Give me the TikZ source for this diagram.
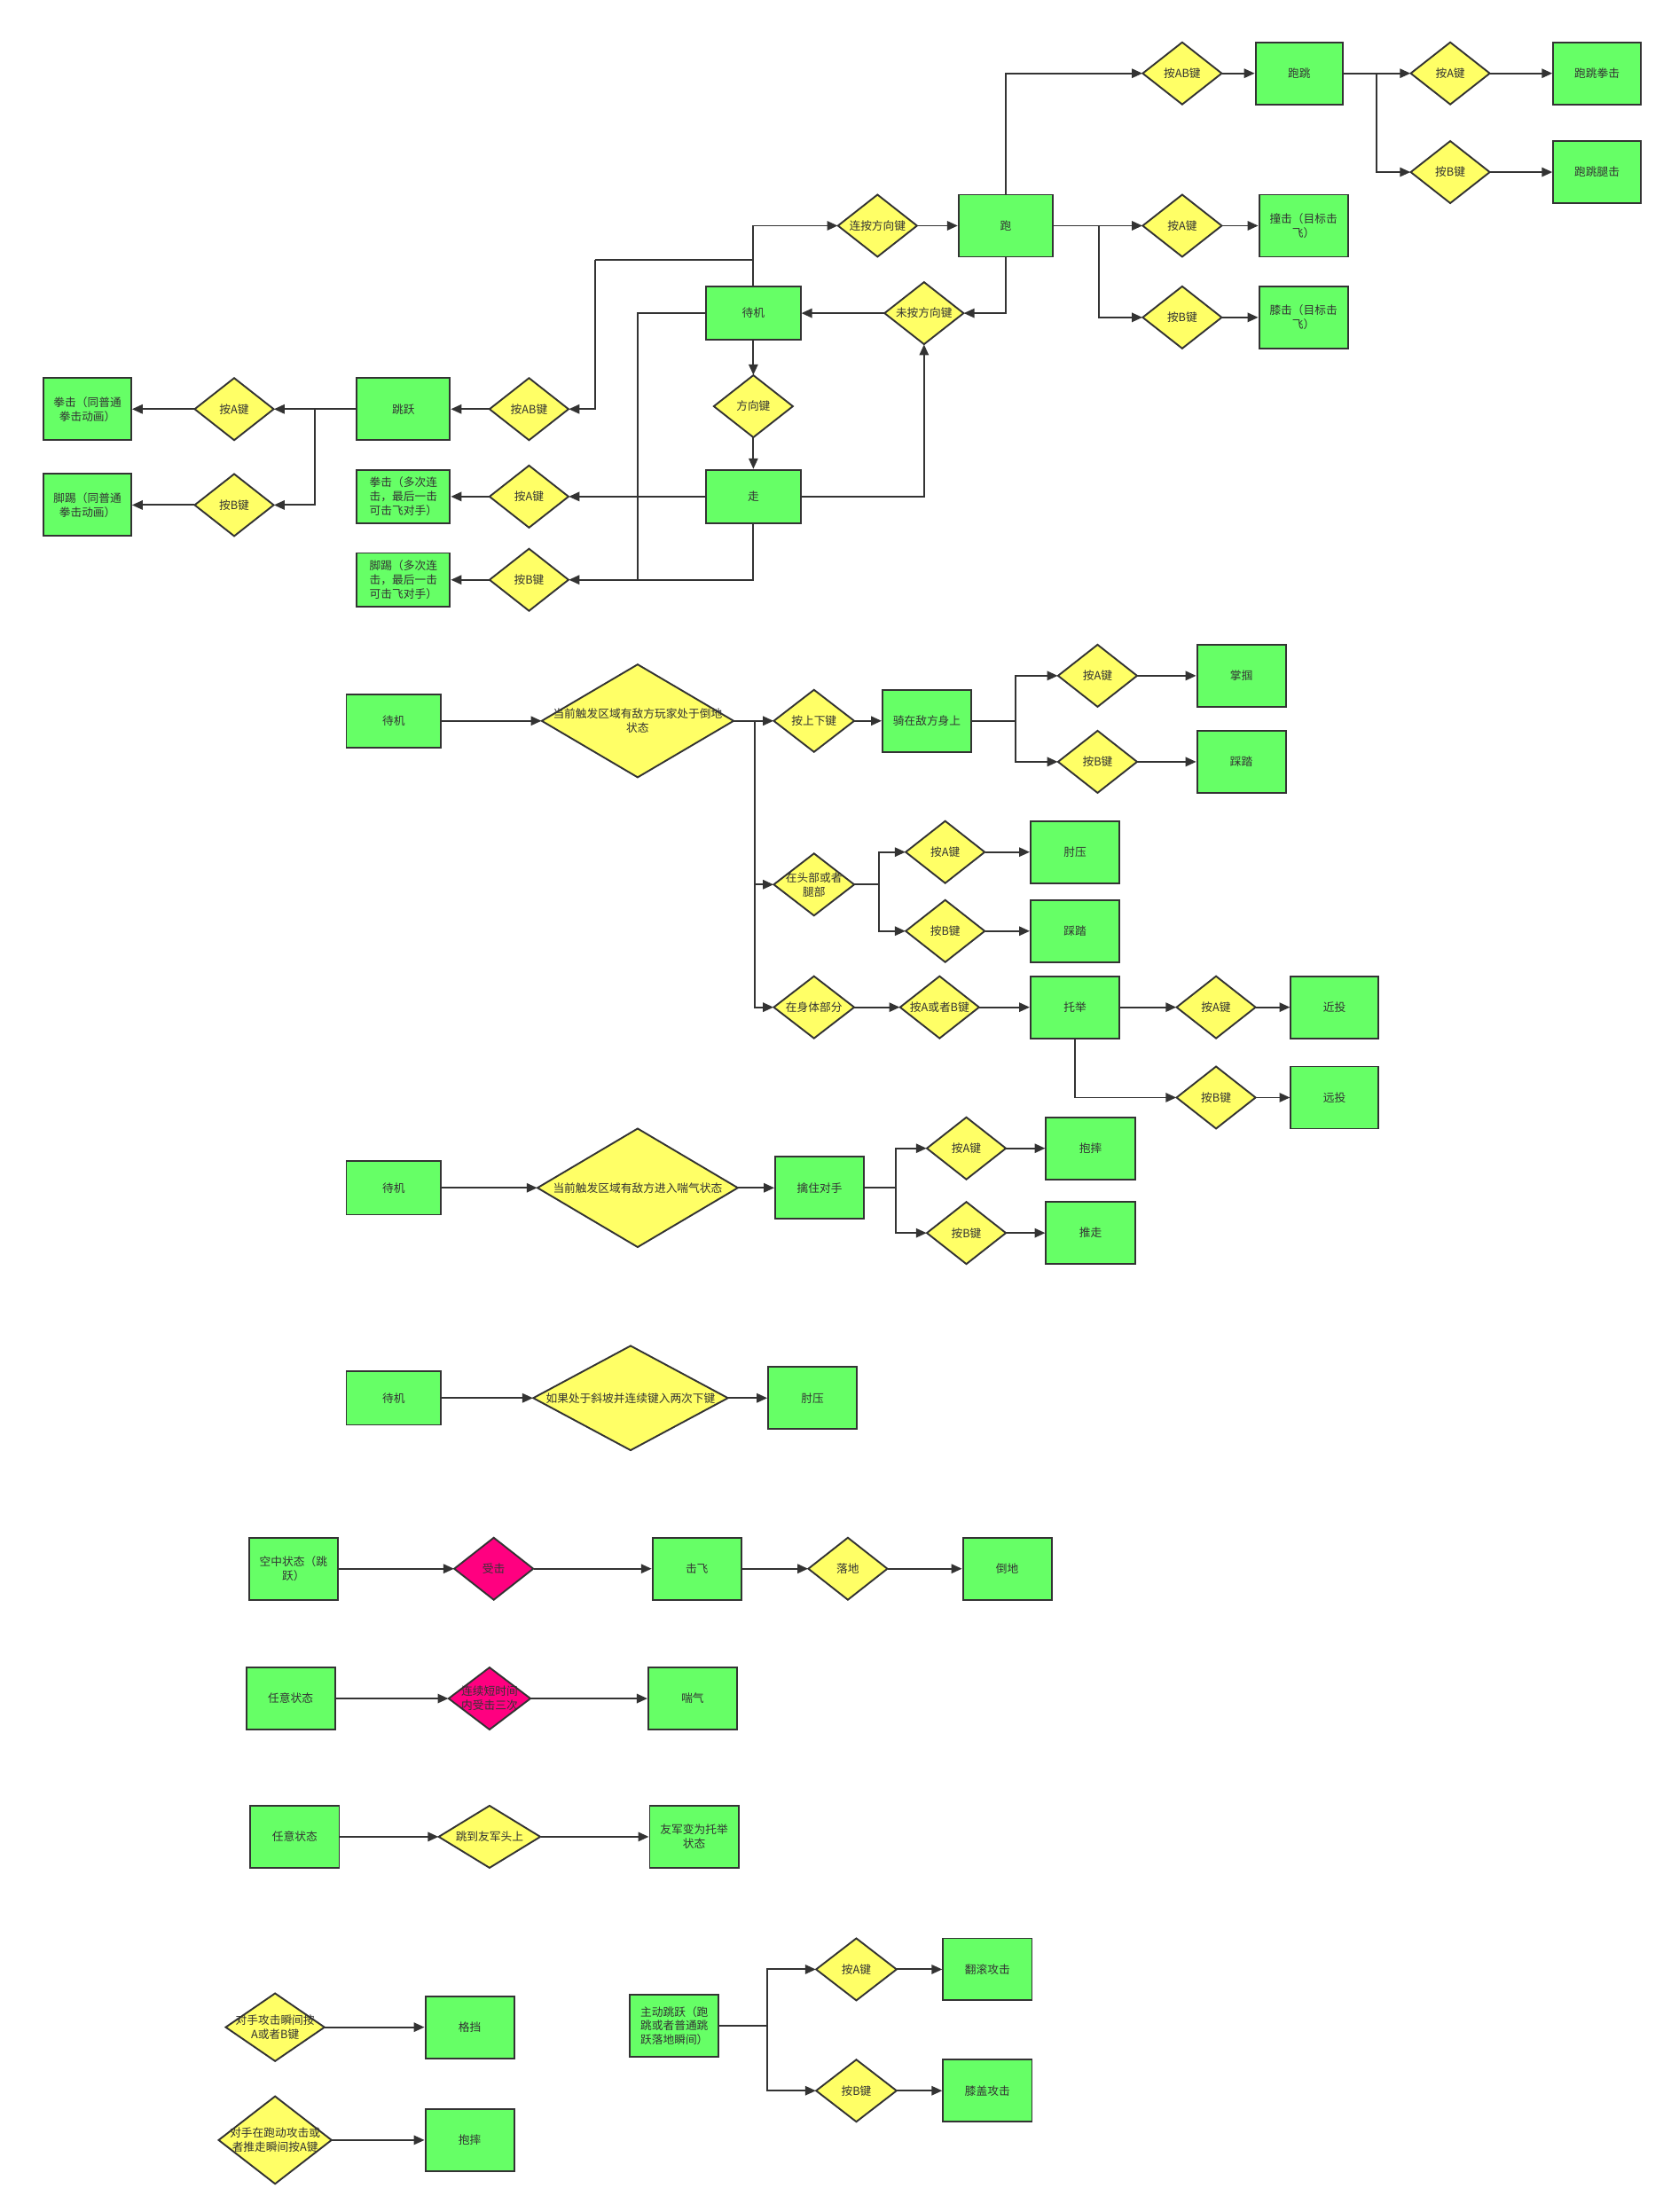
\documentclass[tikz,border=0pt]{standalone}
\usepackage{fontspec}
\setmainfont{Noto Sans CJK SC}
\usetikzlibrary{arrows.meta}
\definecolor{gr}{HTML}{66FF66}
\definecolor{ye}{HTML}{FFFF66}
\definecolor{mg}{HTML}{FF0080}
\definecolor{lc}{HTML}{333333}
\tikzset{
 box/.style={draw=lc, fill=gr, line width=1.2pt, inner sep=1pt, align=center, font=\fontsize{8}{10}\selectfont, text=lc},
 dtxt/.style={inner sep=0pt, align=center, font=\fontsize{8}{10}\selectfont, text=lc},
 conn/.style={draw=lc, line width=1.2pt},
 arr/.style={draw=lc, line width=1.2pt, -{Triangle[length=7.5pt,width=6.5pt]}},
}
\newcommand\mybox[6]{\node[box,minimum width=#4pt,minimum height=#5pt] (#1) at (#2,#3) {#6};}
\newcommand\mydia[7][ye]{%
 \filldraw[fill=#1,draw=lc,line width=1.2pt] (#3,{#4-#6/2}) -- ({#3+#5/2},#4) -- (#3,{#4+#6/2}) -- ({#3-#5/2},#4) -- cycle;
 \node[dtxt,minimum width=#5pt,minimum height=#6pt] (#2) at (#3,#4) {#7};}
\begin{document}
\begin{tikzpicture}[x=1pt,y=-1pt]
\fill[white] (0,0) rectangle (1184,1568);
\useasboundingbox (0,0) rectangle (1184,1568);
% ---------- top section
\mydia{abT}{838}{52}{56}{44}{按AB键}
\mybox{pt}{921}{52}{62}{44}{跑跳}
\mydia{aTT}{1028}{52}{56}{44}{按A键}
\mybox{ptq}{1132}{52}{62}{44}{跑跳拳击}
\mydia{bTT}{1028}{122}{56}{44}{按B键}
\mybox{ptt}{1132}{122}{62}{44}{跑跳腿击}
\mybox{run}{713}{160}{67}{44}{跑}
\mydia{lian}{622}{160}{56}{44}{连按方向键}
\mydia{aR}{838}{160}{56}{44}{按A键}
\mybox{zj}{924}{160}{63}{44}{撞击（目标击\\飞）}
\mydia{bR}{838}{225}{56}{44}{按B键}
\mybox{xj}{924}{225}{63}{44}{膝击（目标击\\飞）}
\mydia{wa}{655}{222}{56}{44}{未按方向键}
\mybox{idle}{534}{222}{67}{38}{待机}
\mydia{fx}{534}{288}{56}{44}{方向键}
\mybox{walk}{534}{352}{67}{38}{走}
\mybox{jump}{286}{290}{66}{44}{跳跃}
\mydia{abL}{375}{290}{56}{44}{按AB键}
\mybox{qj}{62}{290}{62}{44}{拳击（同普通\\拳击动画）}
\mydia{aL}{166}{290}{56}{44}{按A键}
\mybox{jt}{62}{358}{62}{44}{脚踢（同普通\\拳击动画）}
\mydia{bL}{166}{358}{56}{44}{按B键}
\mybox{qj2}{286}{352}{66}{38}{拳击（多次连\\击，最后一击\\可击飞对手）}
\mydia{aL2}{375}{352}{56}{44}{按A键}
\mybox{jt2}{286}{411}{66}{38}{脚踢（多次连\\击，最后一击\\可击飞对手）}
\mydia{bL2}{375}{411}{56}{44}{按B键}
\coordinate (c1) at (422,184);
\coordinate (c2) at (452,222);
\coordinate (c3) at (779,160);
\coordinate (c4) at (976,52);
\coordinate (c5) at (223,290);
\draw[arr] (idle.north) |- (lian.west);
\draw[conn] (idle.north) |- (c1);
\draw[arr] (c1) |- (abL.east);
\draw[arr] (idle.west) -- (c2) |- (bL2.east);
\draw[conn] (walk.south) |- (c2 |- bL2.east);
\draw[arr] (walk.west) -- (aL2.east);
\draw[arr] (run.south) |- (wa.east);
\draw[arr] (walk.east) -| (wa.south);
\draw[arr] (wa.west) -- (idle.east);
\draw[arr] (idle.south) -- (fx.north);
\draw[arr] (fx.south) -- (walk.north);
\draw[arr] (lian.east) -- (run.west);
\draw[arr] (run.north) |- (abT.west);
\draw[arr] (run.east) -- (aR.west);
\draw[arr] (c3) |- (bR.west);
\draw[arr] (aR.east) -- (zj.west);
\draw[arr] (bR.east) -- (xj.west);
\draw[arr] (abT.east) -- (pt.west);
\draw[arr] (pt.east) -- (aTT.west);
\draw[arr] (c4) |- (bTT.west);
\draw[arr] (aTT.east) -- (ptq.west);
\draw[arr] (bTT.east) -- (ptt.west);
\draw[arr] (abL.west) -- (jump.east);
\draw[arr] (jump.west) -- (aL.east);
\draw[arr] (c5) |- (bL.east);
\draw[arr] (aL.west) -- (qj.east);
\draw[arr] (bL.west) -- (jt.east);
\draw[arr] (aL2.west) -- (qj2.east);
\draw[arr] (bL2.west) -- (jt2.east);
% ---------- section 2
\mybox{idle2}{279}{511}{67}{38}{待机}
\mydia{big2}{452}{511}{136}{80}{当前触发区域有敌方玩家处于倒地\\状态}
\mydia{sx}{577}{511}{57}{44}{按上下键}
\mybox{qi}{657}{511}{63}{44}{骑在敌方身上}
\mydia{aQ}{778}{479}{56}{44}{按A键}
\mybox{zg}{880}{479}{63}{44}{掌掴}
\mydia{bQ}{778}{540}{56}{44}{按B键}
\mybox{ct}{880}{540}{63}{44}{踩踏}
\mydia{tou}{577}{627}{57}{44}{在头部或者\\腿部}
\mydia{aT}{670}{604}{56}{44}{按A键}
\mybox{zy}{762}{604}{63}{44}{肘压}
\mydia{bT}{670}{660}{56}{44}{按B键}
\mybox{ct2}{762}{660}{63}{44}{踩踏}
\mydia{shen}{577}{714}{57}{44}{在身体部分}
\mydia{ab2}{666}{714}{56}{44}{按A或者B键}
\mybox{tj}{762}{714}{63}{44}{托举}
\mydia{aS}{862}{714}{56}{44}{按A键}
\mybox{jin}{946}{714}{62}{44}{近投}
\mydia{bS}{862}{778}{56}{44}{按B键}
\mybox{yuan}{946}{778}{62}{44}{远投}
\coordinate (c6) at (535,511);
\coordinate (c7) at (720,511);
\coordinate (c8) at (623,627);
\draw[arr] (idle2.east) -- (big2.west);
\draw[arr] (big2.east) -- (sx.west);
\draw[arr] (c6) |- (tou.west);
\draw[arr] (c6) |- (shen.west);
\draw[arr] (sx.east) -- (qi.west);
\draw[arr] (qi.east) -- (c7) |- (aQ.west);
\draw[arr] (c7) |- (bQ.west);
\draw[arr] (aQ.east) -- (zg.west);
\draw[arr] (bQ.east) -- (ct.west);
\draw[arr] (tou.east) -- (c8) |- (aT.west);
\draw[arr] (c8) |- (bT.west);
\draw[arr] (aT.east) -- (zy.west);
\draw[arr] (bT.east) -- (ct2.west);
\draw[arr] (shen.east) -- (ab2.west);
\draw[arr] (ab2.east) -- (tj.west);
\draw[arr] (tj.east) -- (aS.west);
\draw[arr] (aS.east) -- (jin.west);
\draw[arr] (tj.south) |- (bS.west);
\draw[arr] (bS.east) -- (yuan.west);
% ---------- section 3
\mybox{idle3}{279}{842}{67}{38}{待机}
\mydia{big3}{452}{842}{142}{84}{当前触发区域有敌方进入喘气状态}
\mybox{qz}{581}{842}{63}{44}{擒住对手}
\mydia{a3}{685}{814}{56}{44}{按A键}
\mybox{bs}{773}{814}{63}{44}{抱摔}
\mydia{b3}{685}{874}{56}{44}{按B键}
\mybox{tz}{773}{874}{63}{44}{推走}
\coordinate (c9) at (635,842);
\draw[arr] (idle3.east) -- (big3.west);
\draw[arr] (big3.east) -- (qz.west);
\draw[arr] (qz.east) -- (c9) |- (a3.west);
\draw[arr] (c9) |- (b3.west);
\draw[arr] (a3.east) -- (bs.west);
\draw[arr] (b3.east) -- (tz.west);
% ---------- section 4
\mybox{idle4}{279}{991}{67}{38}{待机}
\mydia{big4}{447}{991}{138}{74}{如果处于斜坡并连续键入两次下键}
\mybox{zy4}{576}{991}{63}{44}{肘压}
\draw[arr] (idle4.east) -- (big4.west);
\draw[arr] (big4.east) -- (zy4.west);
% ---------- section 5
\mybox{kz}{208}{1112}{63}{44}{空中状态（跳\\跃）}
\mydia[mg]{sj}{350}{1112}{56}{44}{受击}
\mybox{jf}{494}{1112}{63}{44}{击飞}
\mydia{ld}{601}{1112}{56}{44}{落地}
\mybox{dd}{714}{1112}{63}{44}{倒地}
\draw[arr] (kz.east) -- (sj.west);
\draw[arr] (sj.east) -- (jf.west);
\draw[arr] (jf.east) -- (ld.west);
\draw[arr] (ld.east) -- (dd.west);
% ---------- section 6
\mybox{ry1}{206}{1204}{63}{44}{任意状态}
\mydia[mg]{lx}{347}{1204}{58}{44}{连续短时间\\内受击三次}
\mybox{cq}{491}{1204}{63}{44}{喘气}
\draw[arr] (ry1.east) -- (lx.west);
\draw[arr] (lx.east) -- (cq.west);
% ---------- section 7
\mybox{ry2}{209}{1302}{63}{44}{任意状态}
\mydia{tiao}{347}{1302}{72}{44}{跳到友军头上}
\mybox{yj}{492}{1302}{63}{44}{友军变为托举\\状态}
\draw[arr] (ry2.east) -- (tiao.west);
\draw[arr] (tiao.east) -- (yj.west);
% ---------- section 8
\mydia{d1}{195}{1437}{70}{48}{对手攻击瞬间按\\A或者B键}
\mybox{gd}{333}{1437}{63}{44}{格挡}
\mydia{d2}{195}{1517}{80}{62}{对手在跑动攻击或\\者推走瞬间按A键}
\mybox{bs2}{333}{1517}{63}{44}{抱摔}
\mybox{zd}{478}{1436}{63}{44}{主动跳跃（跑\\跳或者普通跳\\跃落地瞬间）}
\mydia{aZ}{607}{1396}{57}{44}{按A键}
\mybox{fg}{700}{1396}{63}{44}{翻滚攻击}
\mydia{bZ}{607}{1482}{57}{44}{按B键}
\mybox{xg}{700}{1482}{63}{44}{膝盖攻击}
\coordinate (c10) at (544,1436);
\draw[arr] (d1.east) -- (gd.west);
\draw[arr] (d2.east) -- (bs2.west);
\draw[arr] (zd.east) -- (c10) |- (aZ.west);
\draw[arr] (c10) |- (bZ.west);
\draw[arr] (aZ.east) -- (fg.west);
\draw[arr] (bZ.east) -- (xg.west);
\end{tikzpicture}
\end{document}
